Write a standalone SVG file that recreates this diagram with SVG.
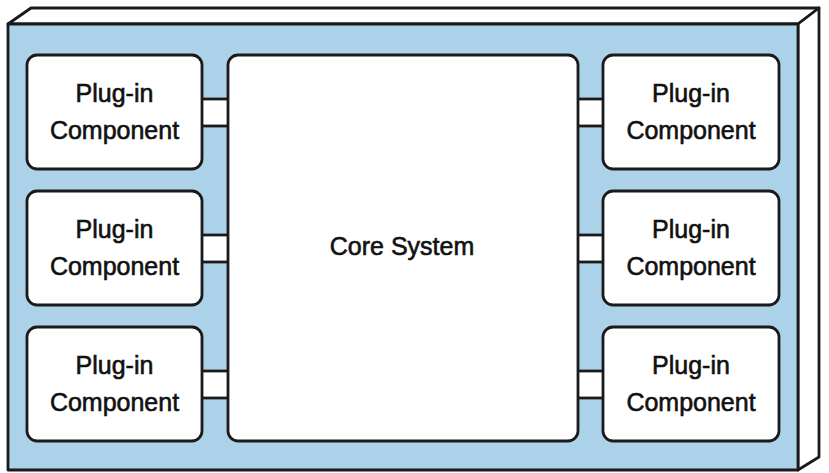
<svg xmlns="http://www.w3.org/2000/svg" width="829" height="473" viewBox="0 0 829 473">
<style>
.edge{stroke:#1a1a1a;stroke-width:2.8;stroke-linejoin:round}
.box{fill:#fff;stroke:#1a1a1a;stroke-width:2.8}
.lbl{font-family:"Liberation Sans",Arial,sans-serif;font-size:25px;fill:#111;stroke:#111;stroke-width:0.6;text-anchor:middle}
.conn{fill:#fff;stroke:none}
.cl{stroke:#1a1a1a;stroke-width:2.8}
</style>
<rect width="829" height="473" fill="#fff"/>
<g id="container">
<polygon class="edge" points="8,24 31,8 819,8 798,24" fill="#fff"/>
<polygon class="edge" points="798,24 819,8 819,457 798,470" fill="#fff"/>
<rect class="edge" x="8" y="24" width="790" height="446" fill="#acd2ea"/>
</g>
<g id="connectors">
<rect class="conn" x="202" y="99" width="26" height="27"/>
<line class="cl" x1="202" y1="99" x2="228" y2="99"/><line class="cl" x1="202" y1="126" x2="228" y2="126"/>
<rect class="conn" x="202" y="235" width="26" height="27"/>
<line class="cl" x1="202" y1="235" x2="228" y2="235"/><line class="cl" x1="202" y1="262" x2="228" y2="262"/>
<rect class="conn" x="202" y="371" width="26" height="27"/>
<line class="cl" x1="202" y1="371" x2="228" y2="371"/><line class="cl" x1="202" y1="398" x2="228" y2="398"/>
<rect class="conn" x="578" y="99" width="25" height="27"/>
<line class="cl" x1="578" y1="99" x2="603" y2="99"/><line class="cl" x1="578" y1="126" x2="603" y2="126"/>
<rect class="conn" x="578" y="235" width="25" height="27"/>
<line class="cl" x1="578" y1="235" x2="603" y2="235"/><line class="cl" x1="578" y1="262" x2="603" y2="262"/>
<rect class="conn" x="578" y="371" width="25" height="27"/>
<line class="cl" x1="578" y1="371" x2="603" y2="371"/><line class="cl" x1="578" y1="398" x2="603" y2="398"/>
</g>
<g id="core">
<rect class="box" x="228" y="55" width="350" height="386" rx="10"/>
<text class="lbl" x="402" y="255" font-size="24">Core System</text>
</g>
<g id="plugin-l1">
<rect class="box" x="27" y="55" width="175" height="114" rx="10"/>
<text class="lbl" x="114.5" y="102">Plug-in</text><text class="lbl" x="114.5" y="139">Component</text>
</g>
<g id="plugin-l2">
<rect class="box" x="27" y="191" width="175" height="114" rx="10"/>
<text class="lbl" x="114.5" y="238">Plug-in</text><text class="lbl" x="114.5" y="275">Component</text>
</g>
<g id="plugin-l3">
<rect class="box" x="27" y="327" width="175" height="114" rx="10"/>
<text class="lbl" x="114.5" y="374">Plug-in</text><text class="lbl" x="114.5" y="411">Component</text>
</g>
<g id="plugin-r1">
<rect class="box" x="603" y="55" width="176" height="114" rx="10"/>
<text class="lbl" x="691" y="102">Plug-in</text><text class="lbl" x="691" y="139">Component</text>
</g>
<g id="plugin-r2">
<rect class="box" x="603" y="191" width="176" height="114" rx="10"/>
<text class="lbl" x="691" y="238">Plug-in</text><text class="lbl" x="691" y="275">Component</text>
</g>
<g id="plugin-r3">
<rect class="box" x="603" y="327" width="176" height="114" rx="10"/>
<text class="lbl" x="691" y="374">Plug-in</text><text class="lbl" x="691" y="411">Component</text>
</g>
</svg>
